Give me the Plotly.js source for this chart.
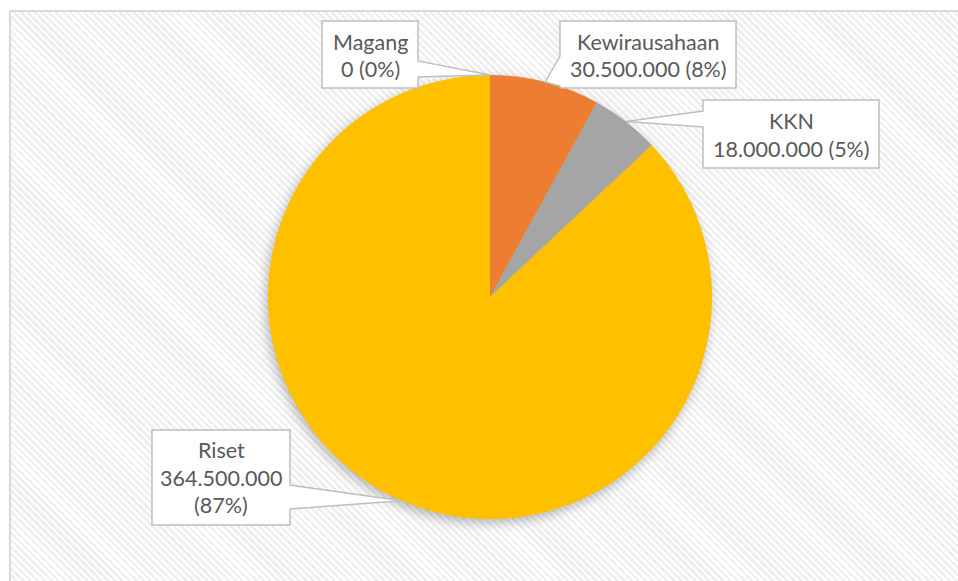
<!DOCTYPE html>
<html>
<head>
<meta charset="utf-8">
<script src="https://cdn.plot.ly/plotly-3.0.1.min.js"></script>
<style>
  html, body { margin: 0; padding: 0; background: #ffffff; width: 958px; height: 581px; overflow: hidden; }
  #frame {
    position: absolute; left: 9px; top: 10px; width: 1000px; height: 1000px;
    border-left: 2px solid #d9d9d9; border-top: 2px solid #d9d9d9;
    background: repeating-linear-gradient(45deg, #ffffff 0px, #ffffff 2.5px, #efefef 2.5px, #efefef 5px);
  }
  #chart { position: absolute; left: 0; top: 0; width: 958px; height: 581px; }
  .pielayer { filter: drop-shadow(-2px 4px 6px rgba(0,0,0,0.28)); }
</style>
</head>
<body>
<div id="frame"></div>
<div id="chart"></div>
<script>
// ---- data ----
const categories = ["Magang", "Kewirausahaan", "KKN", "Riset"];
const amounts    = [0, 30500000, 18000000, 364500000];   // label values
const percents   = [0, 8, 5, 87];                         // displayed shares (slice sizes)
const colors     = ["#4472C4", "#ED7D31", "#A5A5A5", "#FFC000"];

// ---- geometry (pixels) ----
const W = 958, H = 581;
const CX = 490, CY = 297, R = 222;
const px = x => x / W;
const py = y => 1 - y / H;

// callout boxes: [x0, y0, x1, y1], side of wedge and its base along that side
const boxes = [
  { box: [322, 21, 418, 88],  side: "right",  base: [61, 77] },
  { box: [560, 21, 736, 88],  side: "left",   base: [56, 86] },
  { box: [703, 100, 879, 168], side: "left",  base: [111, 127] },
  { box: [152, 430, 290, 525], side: "right", base: [485, 509] }
];

function fmt(n) {
  return String(n).replace(/\B(?=(\d{3})+(?!\d))/g, ".");
}
const lineSets = categories.map((c, i) => {
  if (c === "Riset") return [c, fmt(amounts[i]), "(" + percents[i] + "%)"];
  return [c, fmt(amounts[i]) + " (" + percents[i] + "%)"];
});

// leader tips at slice mid-angle on the pie edge
const total = percents.reduce((a, b) => a + b, 0);
let cum = 0;
const tips = percents.map(v => {
  const mid = (cum + v / 2) / total * 2 * Math.PI;
  cum += v;
  return [CX + R * Math.sin(mid), CY - R * Math.cos(mid)];
});

const shapes = [];
const annotations = [];
boxes.forEach((b, i) => {
  const [x0, y0, x1, y1] = b.box;
  const [tx, ty] = tips[i];
  let pts;
  if (b.side === "right") {
    pts = [[x0, y0], [x1, y0], [x1, b.base[0]], [tx, ty], [x1, b.base[1]], [x1, y1], [x0, y1]];
  } else {
    pts = [[x0, y0], [x1, y0], [x1, y1], [x0, y1], [x0, b.base[1]], [tx, ty], [x0, b.base[0]]];
  }
  const path = "M" + pts.map(p => px(p[0]).toFixed(5) + "," + py(p[1]).toFixed(5)).join(" L") + " Z";
  shapes.push({
    type: "path", xref: "paper", yref: "paper", path: path,
    fillcolor: "#ffffff", line: { color: "#bfbfbf", width: 1.5 }, layer: "above"
  });
  const lines = lineSets[i];
  const spacing = 27.5;
  const cyBox = (y0 + y1) / 2 + (lines.length === 2 ? 1 : 0);
  lines.forEach((t, k) => {
    const ly = cyBox + (k - (lines.length - 1) / 2) * spacing;
    annotations.push({
      xref: "paper", yref: "paper", x: px((x0 + x1) / 2), y: py(ly),
      xanchor: "center", yanchor: "middle", showarrow: false, text: t,
      font: { family: "Lato, 'Open Sans', sans-serif", size: 21.5, color: "#595959" }
    });
  });
});

const trace = {
  type: "pie",
  labels: categories,
  values: percents,
  sort: false,
  direction: "clockwise",
  rotation: 0,
  marker: { colors: colors, line: { width: 0 } },
  textinfo: "none",
  hoverinfo: "label+percent",
  showlegend: false,
  domain: { x: [px(CX - R), px(CX + R)], y: [py(CY + R), py(CY - R)] }
};

const layout = {
  width: W, height: H,
  margin: { l: 0, r: 0, t: 0, b: 0 },
  paper_bgcolor: "rgba(0,0,0,0)",
  plot_bgcolor: "rgba(0,0,0,0)",
  showlegend: false,
  shapes: shapes,
  annotations: annotations
};

Plotly.newPlot("chart", [trace], layout, { displayModeBar: false, staticPlot: true });
</script>
</body>
</html>
